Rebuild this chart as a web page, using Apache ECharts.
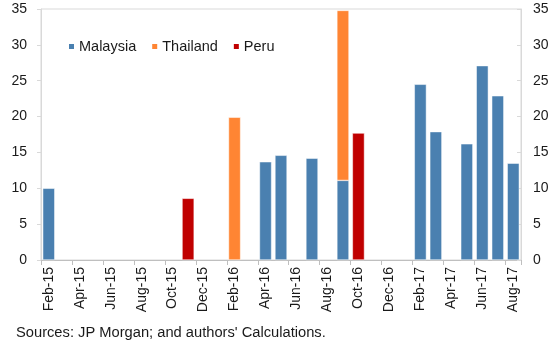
<!DOCTYPE html>
<html>
<head>
<meta charset="utf-8">
<script src="https://cdn.jsdelivr.net/npm/echarts@6/dist/echarts.min.js"></script>
<style>
  html, body { margin: 0; padding: 0; background: #fff; }
  #chart { width: 554px; height: 343px; }
</style>
</head>
<body>
<div id="chart"></div>
<script>
// Monthly categories, Feb-15 to Aug-17
const months = [
  'Feb-15','Mar-15','Apr-15','May-15','Jun-15','Jul-15','Aug-15','Sep-15','Oct-15','Nov-15','Dec-15',
  'Jan-16','Feb-16','Mar-16','Apr-16','May-16','Jun-16','Jul-16','Aug-16','Sep-16','Oct-16','Nov-16','Dec-16',
  'Jan-17','Feb-17','Mar-17','Apr-17','May-17','Jun-17','Jul-17','Aug-17'
];

// Values per country ('-' = no issuance that month)
const malaysia = [10,'-','-','-','-','-','-','-','-','-','-','-','-','-',13.7,14.6,'-',14.2,'-',11.1,'-','-','-','-',24.5,17.9,'-',16.2,27.1,22.9,13.5];
const thailand = ['-','-','-','-','-','-','-','-','-','-','-','-',19.9,'-','-','-','-','-','-',23.7,'-','-','-','-','-','-','-','-','-','-','-'];
const peru     = ['-','-','-','-','-','-','-','-','-',8.6,'-','-','-','-','-','-','-','-','-','-',17.7,'-','-','-','-','-','-','-','-','-','-'];

const yTicks = { min: 0, max: 35, interval: 5 };

const chart = echarts.init(document.getElementById('chart'), null, { renderer: 'canvas' });
const font = 'Liberation Sans, Arial, sans-serif';

const yAxisBase = {
  type: 'value',
  min: yTicks.min, max: yTicks.max, interval: yTicks.interval,
  splitLine: { show: false },
  axisLine: { show: true, lineStyle: { color: '#d9d9d9' } },
  axisTick: { show: true, length: 4, lineStyle: { color: '#d9d9d9' } },
  axisLabel: { color: '#1a1a1a', fontSize: 14, fontFamily: font, margin: 14 }
};

const barStyle = (color) => ({ color: color, borderColor: '#ffffff', borderWidth: 0.5 });

chart.setOption({
  animation: false,
  textStyle: { fontFamily: font },
  grid: { left: 41, right: 33, top: 9, bottom: 83, show: true, borderColor: '#d9d9d9', borderWidth: 1 },
  legend: {
    left: 62, top: 34,
    itemWidth: 7, itemHeight: 7, itemGap: 14,
    icon: 'rect',
    textStyle: { fontSize: 14.5, color: '#1a1a1a', fontFamily: font, padding: [0, 0, 0, -1] },
    data: ['Malaysia', 'Thailand', 'Peru']
  },
  xAxis: {
    type: 'category',
    data: months,
    boundaryGap: true,
    axisLine: { lineStyle: { color: '#bfbfbf' } },
    axisTick: { show: true, interval: 1, length: 5, lineStyle: { color: '#bfbfbf' } },
    axisLabel: { interval: 1, rotate: 90, color: '#1a1a1a', fontSize: 14, fontFamily: font, margin: 7 }
  },
  yAxis: [
    Object.assign({}, yAxisBase, { position: 'left' }),
    Object.assign({}, yAxisBase, {
      position: 'right',
      axisTick: { show: true, inside: true, length: 4, lineStyle: { color: '#d9d9d9' } },
      axisLabel: Object.assign({}, yAxisBase.axisLabel, { margin: 12 })
    })
  ],
  series: [
    { name: 'Malaysia', type: 'bar', stack: 'total', data: malaysia, barWidth: '78%', itemStyle: barStyle('#4a80b0') },
    { name: 'Thailand', type: 'bar', stack: 'total', data: thailand, barWidth: '78%', itemStyle: barStyle('#ff8533') },
    { name: 'Peru',     type: 'bar', stack: 'total', data: peru,     barWidth: '78%', itemStyle: barStyle('#c00000') }
  ],
  graphic: [
    {
      type: 'text', left: 16, top: 325,
      style: { text: "Sources: JP Morgan; and authors' Calculations.", font: '14.7px ' + font, fill: '#1a1a1a' }
    }
  ]
});
</script>
</body>
</html>
